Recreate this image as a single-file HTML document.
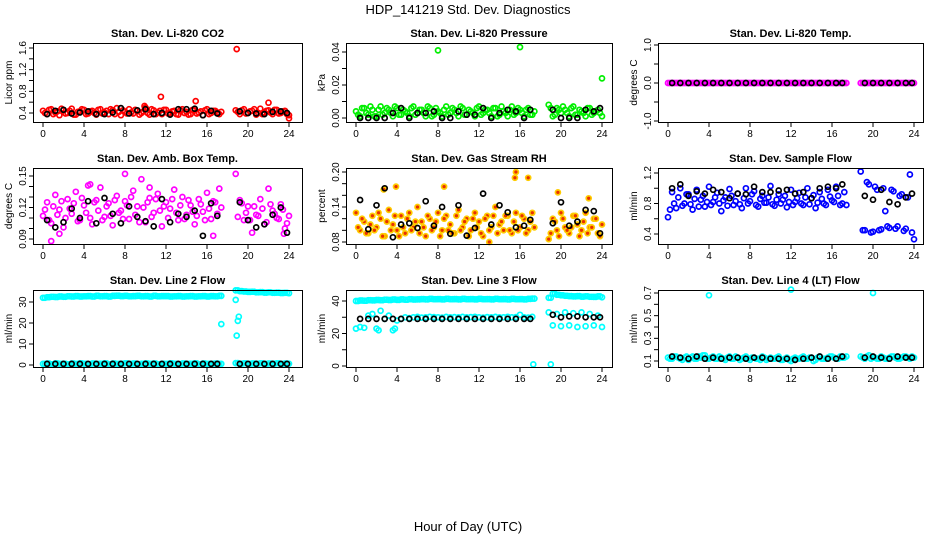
<!DOCTYPE html>
<html><head><meta charset="utf-8">
<style>
html,body{margin:0;padding:0;background:#fff;}
svg{display:block;font-family:"Liberation Sans",Arial,sans-serif;}
</style></head>
<body>
<svg id="chart" width="936" height="540" viewBox="0 0 936 540" xmlns="http://www.w3.org/2000/svg">
<text x="468" y="14" text-anchor="middle" font-size="13">HDP_141219  Std. Dev. Diagnostics</text>
<text x="468" y="531" text-anchor="middle" font-size="13">Hour of Day (UTC)</text>
<g id="panels"></g>
</svg>
<script>
const xTicks = [0,4,8,12,16,20,24];
const hoursC = [0,0.4,0.8,1.2,1.6,2,2.4,2.8,3.2,3.6,4,4.4,4.8,5.2,5.6,6,6.4,6.8,7.2,7.6,8,8.4,8.8,9.2,9.6,10,10.4,10.8,11.2,11.6,12,12.4,12.8,13.2,13.6,14,14.4,14.8,15.2,15.6,16,16.4,16.8,17.2,18.8,19.2,19.6,20,20.4,20.8,21.2,21.6,22,22.4,22.8,23.2,23.6,24];
const hoursC2 = [0.2,0.6,1,1.4,1.8,2.2,2.6,3,3.4,3.8,4.2,4.6,5,5.4,5.8,6.2,6.6,7,7.4,7.8,8.2,8.6,9,9.4,9.8,10.2,10.6,11,11.4,11.8,12.2,12.6,13,13.4,13.8,14.2,14.6,15,15.4,15.8,16.2,16.6,17,17.4,19,19.4,19.8,20.2,20.6,21,21.4,21.8,22.2,22.6,23,23.4,23.8];
const hoursK = [0.4,1.2,2,2.8,3.6,4.4,5.2,6,6.8,7.6,8.4,9.2,10,10.8,11.6,12.4,13.2,14,14.8,15.6,16.4,17,19.2,20,20.8,21.6,22.4,23.2,23.8];

const co2C = [0.44,0.38,0.47,0.41,0.36,0.45,0.40,0.48,0.37,0.43,0.46,0.39,0.44,0.37,0.47,0.41,0.38,0.45,0.49,0.36,0.42,0.47,0.39,0.44,0.40,0.50,0.37,0.45,0.41,0.38,0.46,0.40,0.44,0.37,0.47,0.42,0.38,0.45,0.41,0.36,0.47,0.40,0.44,0.38,0.45,0.38,0.47,0.40,0.44,0.37,0.48,0.41,0.45,0.38,0.46,0.40,0.44,0.36];
const co2C2 = [0.40,0.46,0.38,0.43,0.48,0.39,0.44,0.37,0.42,0.47,0.38,0.43,0.40,0.46,0.39,0.44,0.47,0.38,0.42,0.45,0.39,0.41,0.46,0.37,0.43,0.40,0.47,0.38,0.44,0.46,0.39,0.43,0.38,0.45,0.40,0.37,0.46,0.39,0.43,0.45,0.38,0.44,0.41,0.42,0.42,0.45,0.39,0.43,0.47,0.40,0.38,0.44,0.41,0.46,0.39,0.43,0.38];
const co2OutH = [11.5,14.9,18.9,22,9.9,24];
const co2OutV = [0.70,0.62,1.58,0.59,0.53,0.30];
const co2K = [0.38,0.44,0.46,0.39,0.41,0.43,0.38,0.38,0.41,0.49,0.39,0.45,0.47,0.38,0.40,0.37,0.47,0.47,0.48,0.36,0.44,0.39,0.43,0.40,0.39,0.38,0.42,0.43,0.40];

const presC = [0.004,0.001,0.006,0.002,0.005,0.001,0.007,0.003,0.005,0.001,0.006,0.002,0.004,0.001,0.007,0.003,0.005,0.001,0.006,0.002,0.004,0.001,0.007,0.003,0.005,0.001,0.006,0.002,0.004,0.001,0.007,0.003,0.005,0.001,0.006,0.002,0.004,0.001,0.007,0.003,0.005,0.001,0.006,0.002,0.008,0.001,0.006,0.003,0.005,0.001,0.007,0.002,0.004,0.001,0.006,0.003,0.005,0.001];
const presC2 = [0.002,0.006,0.003,0.007,0.001,0.005,0.002,0.006,0.003,0.007,0.002,0.005,0.003,0.006,0.002,0.005,0.003,0.007,0.001,0.006,0.003,0.005,0.002,0.006,0.003,0.007,0.002,0.005,0.003,0.006,0.002,0.005,0.003,0.006,0.001,0.007,0.003,0.005,0.002,0.006,0.003,0.005,0.002,0.004,0.006,0.002,0.005,0.007,0.003,0.006,0.002,0.005,0.003,0.006,0.002,0.004,0.003];
const presOutH = [8,16,24];
const presOutV = [0.041,0.043,0.024];
const presK = [0,0,0,0,0.003,0.006,0,0.003,0.003,0.004,0,0,0.004,0.002,0.002,0.006,0,0.003,0.005,0.004,0,0.005,0.005,0,0,0,0.005,0.004,0.006];

const tempC = [0,0,0,0,0,0,0,0,0,0,0,0,0,0,0,0,0,0,0,0,0,0,0,0,0,0,0,0,0,0,0,0,0,0,0,0,0,0,0,0,0,0,0,0,0,0,0,0,0,0,0,0,0,0,0,0,0,0];
const tempC2 = [0,0,0,0,0,0,0,0,0,0,0,0,0,0,0,0,0,0,0,0,0,0,0,0,0,0,0,0,0,0,0,0,0,0,0,0,0,0,0,0,0,0,0,0,0,0,0,0,0,0,0,0,0,0,0,0,0];
const tempK = [0,0,0,0,0,0,0,0,0,0,0,0,0,0,0,0,0,0,0,0,0,0,0,0,0,0,0,0,0];

const ambC = [0.112,0.125,0.105,0.132,0.118,0.101,0.128,0.114,0.135,0.108,0.122,0.141,0.104,0.127,0.139,0.111,0.124,0.103,0.131,0.117,0.126,0.109,0.136,0.121,0.147,0.106,0.129,0.115,0.133,0.102,0.125,0.119,0.137,0.108,0.130,0.113,0.122,0.104,0.128,0.116,0.134,0.109,0.125,0.138,0.152,0.127,0.108,0.121,0.096,0.113,0.128,0.104,0.138,0.117,0.110,0.123,0.100,0.112];
const ambC2 = [0.118,0.108,0.121,0.113,0.126,0.110,0.119,0.124,0.107,0.129,0.115,0.110,0.125,0.117,0.108,0.121,0.112,0.127,0.115,0.109,0.122,0.130,0.113,0.106,0.120,0.125,0.111,0.128,0.117,0.121,0.110,0.128,0.115,0.122,0.109,0.127,0.116,0.112,0.123,0.108,0.119,0.126,0.114,0.120,0.111,0.124,0.115,0.108,0.121,0.112,0.119,0.106,0.123,0.114,0.109,0.118,0.105];
const ambOutH = [0.8,1.6,16.6,23.5,4.6,8,10.4];
const ambOutV = [0.088,0.095,0.093,0.095,0.142,0.152,0.139];
const ambK = [0.108,0.101,0.106,0.119,0.110,0.126,0.105,0.129,0.114,0.105,0.121,0.111,0.107,0.102,0.128,0.106,0.114,0.111,0.117,0.093,0.124,0.112,0.125,0.108,0.101,0.104,0.113,0.120,0.096];

const rhC = [0.13,0.10,0.115,0.095,0.125,0.105,0.12,0.09,0.135,0.11,0.10,0.125,0.095,0.13,0.105,0.14,0.115,0.09,0.12,0.105,0.13,0.10,0.125,0.11,0.095,0.135,0.105,0.12,0.10,0.13,0.115,0.09,0.125,0.105,0.14,0.11,0.10,0.125,0.095,0.13,0.105,0.12,0.10,0.13,0.085,0.12,0.10,0.13,0.105,0.095,0.125,0.11,0.10,0.13,0.105,0.12,0.095,0.11];
const rhC2 = [0.105,0.12,0.095,0.11,0.10,0.13,0.09,0.115,0.10,0.125,0.09,0.105,0.12,0.10,0.115,0.095,0.105,0.125,0.10,0.115,0.09,0.12,0.10,0.095,0.125,0.10,0.115,0.09,0.12,0.105,0.095,0.12,0.10,0.125,0.095,0.115,0.125,0.10,0.115,0.10,0.125,0.095,0.115,0.105,0.095,0.115,0.09,0.12,0.10,0.105,0.125,0.09,0.115,0.095,0.105,0.12,0.09];
const rhOutH = [15.6,15.5,16.8,8.6,3.9,13,19.7,22.7,2.7];
const rhOutV = [0.200,0.190,0.190,0.175,0.175,0.080,0.165,0.155,0.170];
const rhK = [0.152,0.102,0.143,0.172,0.088,0.110,0.112,0.104,0.150,0.108,0.140,0.094,0.143,0.091,0.104,0.163,0.110,0.143,0.131,0.105,0.108,0.118,0.112,0.148,0.108,0.115,0.135,0.133,0.095];

const sampC = [0.62,0.95,0.74,1.00,0.80,0.92,0.72,0.98,0.85,0.76,1.02,0.82,0.94,0.70,0.88,0.99,0.78,0.93,0.74,1.00,0.83,0.96,0.76,0.90,0.81,1.03,0.77,0.92,0.85,0.75,0.98,0.82,0.94,0.78,1.00,0.87,0.74,0.95,0.80,0.98,0.84,1.02,0.78,0.95,1.22,0.45,1.05,0.43,0.98,0.46,0.70,0.48,0.96,0.50,0.92,0.47,1.18,0.33];
const sampC2 = [0.72,0.80,0.88,0.77,0.92,0.79,0.86,0.76,0.90,0.82,0.78,0.88,0.80,0.84,0.77,0.90,0.83,0.79,0.87,0.80,0.92,0.78,0.86,0.81,0.88,0.79,0.85,0.80,0.90,0.82,0.78,0.87,0.80,0.88,0.79,0.91,0.81,0.86,0.78,0.89,0.82,0.90,0.80,0.78,0.45,1.08,0.42,1.02,0.45,1.00,0.50,0.98,0.47,0.90,0.44,0.88,0.42];
const sampK = [1.00,1.05,0.90,0.96,0.93,0.98,0.95,0.87,0.93,0.92,1.02,0.95,0.95,0.97,0.98,0.93,0.95,0.87,1.00,1.02,1.00,1.05,0.90,0.85,0.98,0.82,0.79,0.88,0.93];

const l2Hi = [32,32.3,32.5,32.4,32.6,32.5,32.7,32.6,32.8,32.6,32.7,32.8,32.6,32.9,32.7,32.8,32.6,32.9,33,32.8,32.9,32.7,32.8,32.9,32.7,32.8,32.6,32.9,32.7,32.8,32.8,32.6,32.7,32.8,32.6,32.7,32.8,32.6,32.7,32.8,32.6,32.8,32.7,32.9,35.5,35.2,35,34.8,34.9,34.6,34.7,34.5,34.6,34.4,34.5,34.3,34.4,34.2];
const l2Lo = [0.5,0.7,0.4,0.8,0.5,0.6,0.4,0.7,0.5,0.8,0.6,0.4,0.7,0.5,0.6,0.8,0.4,0.7,0.5,0.6,0.8,0.5,0.7,0.4,0.6,0.8,0.5,0.7,0.4,0.6,0.5,0.8,0.6,0.4,0.7,0.5,0.6,0.8,0.4,0.7,0.5,0.6,0.7,0.5,0.9,0.6,0.8,0.5,0.7,0.6,0.8,0.5,0.7,0.6,0.8,0.5,0.7,0.6];
const l2OutH = [17.4,18.8,18.9,19,19.1];
const l2OutV = [19.5,31,14,21,23];
const l2K = [0.5,0.5,0.5,0.5,0.5,0.5,0.5,0.5,0.5,0.5,0.5,0.5,0.5,0.5,0.5,0.5,0.5,0.5,0.5,0.5,0.5,0.5,0.5,0.5,0.5,0.5,0.5,0.5,0.5];

const l3Hi = [40,40.3,40.2,40.5,40.4,40.6,40.5,40.8,40.6,40.9,40.7,41,40.8,41.1,40.9,41,41.2,41,41.3,41.1,41.2,41,41.3,41.1,41.2,41,41.3,41.1,41.2,41,41.3,41.1,41.2,41,41.3,41.1,41.2,41,41.3,41.1,41.2,41,41.3,41.5,42,44.5,43.8,43.5,43.2,43,42.8,43,42.7,42.9,42.6,42.5,42.8,42.3];
const l3Lo = [23,24,23.5,31,32,23,34,29,31,22,28,29,30,29.5,30,30.2,29.8,30,30.3,30.1,30,29.8,30.2,30,30.1,29.9,30.2,30,30.1,30.3,30,29.8,30.1,30,30.2,29.9,30,30.3,30,30.1,31.5,30,29.8,30.2,33,25,32,24.5,33,25,32.5,24,33,24.5,32,25,31,24];
const l3OutH = [17.3,19,3.8,2.2];
const l3OutV = [1,1,23,22];
const l3K = [29,29,29,29,29,29,29,29,29,29,29,29,29,29,29,29,29,29,29,29,29,29,31.5,30,30.5,30.5,30,30,30];

const ltC = [0.13,0.12,0.14,0.12,0.13,0.11,0.14,0.12,0.13,0.15,0.12,0.14,0.12,0.13,0.11,0.14,0.12,0.13,0.12,0.14,0.11,0.13,0.12,0.14,0.11,0.13,0.12,0.14,0.11,0.13,0.10,0.13,0.12,0.14,0.12,0.13,0.11,0.14,0.12,0.13,0.14,0.12,0.14,0.13,0.14,0.12,0.15,0.13,0.12,0.14,0.12,0.13,0.14,0.12,0.13,0.14,0.12,0.13];
const ltC2 = [0.12,0.14,0.13,0.11,0.14,0.13,0.12,0.14,0.15,0.12,0.13,0.12,0.14,0.12,0.13,0.12,0.14,0.11,0.13,0.12,0.13,0.12,0.11,0.13,0.12,0.12,0.13,0.11,0.12,0.11,0.12,0.12,0.13,0.12,0.13,0.10,0.13,0.12,0.12,0.14,0.13,0.12,0.13,0.14,0.13,0.14,0.12,0.13,0.12,0.13,0.12,0.14,0.13,0.12,0.14,0.13,0.14];
const ltOutH = [4,12,20];
const ltOutV = [0.68,0.73,0.70];
const ltK = [0.14,0.13,0.12,0.14,0.12,0.13,0.12,0.13,0.13,0.12,0.13,0.13,0.12,0.12,0.12,0.11,0.12,0.13,0.14,0.12,0.12,0.14,0.13,0.14,0.13,0.12,0.14,0.13,0.13];

const yTicks1 = [0.4,0.6,0.8,1.0,1.2,1.4,1.6]; const yLab1 = ["0.4","","0.8","","1.2","","1.6"];
const yTicks2 = [0,0.01,0.02,0.03,0.04]; const yLab2 = ["0.00","","0.02","","0.04"];
const yTicks3 = [-1,-0.5,0,0.5,1]; const yLab3 = ["-1.0","","0.0","","1.0"];
const yTicks4 = [0.09,0.10,0.11,0.12,0.13,0.14,0.15]; const yLab4 = ["0.09","","","0.12","","","0.15"];
const yTicks5 = [0.08,0.10,0.12,0.14,0.16,0.18,0.20]; const yLab5 = ["0.08","","","0.14","","","0.20"];
const yTicks6 = [0.4,0.6,0.8,1.0,1.2]; const yLab6 = ["0.4","","0.8","","1.2"];
const yTicks7 = [0,10,20,30]; const yLab7 = ["0","10","20","30"];
const yTicks8 = [0,10,20,30,40]; const yLab8 = ["0","","20","","40"];
const yTicks9 = [0.1,0.2,0.3,0.4,0.5,0.6,0.7]; const yLab9 = ["0.1","","0.3","","0.5","","0.7"];

const NS = "http://www.w3.org/2000/svg";
const colLeft = [33,346,658], colW = [269,266,265];
const rowTop = [43,168,290], rowH = [79,76,77];

const panels = [
 {t:"Stan. Dev. Li-820 CO2", yl:"Licor ppm", c:0, r:0, cal:[0.4,113,1.6,48], yt:yTicks1, ylb:yLab1, col:"#ff0000",
  ser:[[hoursC,co2C],[hoursC2,co2C2],[co2OutH,co2OutV]], k:co2K},
 {t:"Stan. Dev. Li-820 Pressure", yl:"kPa", c:1, r:0, cal:[0,118,0.04,52], yt:yTicks2, ylb:yLab2, col:"#00ee00",
  ser:[[hoursC,presC],[hoursC2,presC2],[presOutH,presOutV]], k:presK},
 {t:"Stan. Dev. Li-820 Temp.", yl:"degrees C", c:2, r:0, cal:[0,83,1,45], yt:yTicks3, ylb:yLab3, col:"#ff00ff",
  ser:[[hoursC,tempC],[hoursC2,tempC2]], k:tempK},
 {t:"Stan. Dev. Amb. Box Temp.", yl:"degrees C", c:0, r:1, cal:[0.09,239,0.15,176], yt:yTicks4, ylb:yLab4, col:"#ff00ff",
  ser:[[hoursC,ambC],[hoursC2,ambC2],[ambOutH,ambOutV]], k:ambK},
 {t:"Stan. Dev. Gas Stream RH", yl:"percent", c:1, r:1, cal:[0.08,242,0.20,172], yt:yTicks5, ylb:yLab5, col:"#ffcc00", fill:"#e83000",
  ser:[[hoursC,rhC],[hoursC2,rhC2],[rhOutH,rhOutV]], k:rhK},
 {t:"Stan. Dev. Sample Flow", yl:"ml/min", c:2, r:1, cal:[0.4,234,1.2,173], yt:yTicks6, ylb:yLab6, col:"#0000ff",
  ser:[[hoursC,sampC],[hoursC2,sampC2]], k:sampK},
 {t:"Stan. Dev. Line 2 Flow", yl:"ml/min", c:0, r:2, cal:[0,365,30,302], yt:yTicks7, ylb:yLab7, col:"#00ffff",
  ser:[[hoursC,l2Hi],[hoursC2,l2Hi],[hoursC,l2Lo],[hoursC2,l2Lo],[l2OutH,l2OutV]], k:l2K},
 {t:"Stan. Dev. Line 3 Flow", yl:"ml/min", c:1, r:2, cal:[0,366,40,301], yt:yTicks8, ylb:yLab8, col:"#00ffff",
  ser:[[hoursC,l3Hi],[hoursC2,l3Hi],[hoursC,l3Lo],[l3OutH,l3OutV]], k:l3K},
 {t:"Stan. Dev. Line 4 (LT) Flow", yl:"ml/min", c:2, r:2, cal:[0.1,361,0.7,293], yt:yTicks9, ylb:yLab9, col:"#00ffff",
  ser:[[hoursC,ltC],[hoursC2,ltC2],[ltOutH,ltOutV]], k:ltK}
];

function mk(tag, attrs, parent){ const e=document.createElementNS(NS,tag); for(const a in attrs) e.setAttribute(a,attrs[a]); parent.appendChild(e); return e; }

const root = document.getElementById('panels');
panels.forEach((p,i)=>{
  const L=colLeft[p.c], W=colW[p.c], T=rowTop[p.r], H=rowH[p.r];
  const g=mk('g',{},root);
  
  
  const x = h => L+10 + h*(246/24);
  const y = v => p.cal[1] + (v-p.cal[0])*(p.cal[3]-p.cal[1])/(p.cal[2]-p.cal[0]);
  const tt=mk('text',{x:L+W/2,y:T-6,'text-anchor':'middle','font-size':'11','font-weight':'bold'},g);
  tt.textContent=p.t;
  
  
  const pg=mk('g',{fill:p.fill||'none',stroke:p.col,'stroke-width':'1.7'},g);
  
  
  p.ser.forEach(s=>{
    s[0].forEach((h,j)=>{
      const v=s[1][j];
      if(v===undefined) return;
      const c=mk('circle',{cx:x(h).toFixed(1),cy:y(v).toFixed(1),r:2.5},pg);
      
      
    });
  });
  const kg=mk('g',{fill:'none',stroke:'#000','stroke-width':'1.7'},g);
  
  
  hoursK.forEach((h,j)=>{
    const c=mk('circle',{cx:x(h).toFixed(1),cy:y(p.k[j]).toFixed(1),r:2.5},kg);
    
    
  });
  const box=mk('rect',{x:L+0.5,y:T+0.5,width:W,height:H,fill:'none',stroke:'#000','stroke-width':'1'},g);
  
  
  const xa=mk('g',{stroke:'#000','stroke-width':'1'},g);
  
  
  mk('line',{x1:x(0),x2:x(24),y1:T+H+0.5,y2:T+H+0.5},xa);
  xTicks.forEach(v=>{
    mk('line',{x1:x(v),x2:x(v),y1:T+H,y2:T+H+5},xa);
    const tl=mk('text',{x:x(v),y:T+H+15,'text-anchor':'middle','font-size':'10',stroke:'none',fill:'#000'},xa);
    tl.textContent=v;
    
    
  });
  const ya=mk('g',{stroke:'#000','stroke-width':'1'},g);
  
  
  mk('line',{x1:L+0.5,x2:L+0.5,y1:y(p.yt[0]),y2:y(p.yt[p.yt.length-1])},ya);
  p.yt.forEach((v,j)=>{
    const yy=y(v);
    mk('line',{x1:L-4,x2:L,y1:yy,y2:yy},ya);
    if(p.ylb[j]){
      const tl=mk('text',{x:L-7,y:yy,'text-anchor':'middle','font-size':'10',stroke:'none',fill:'#000',transform:`rotate(-90 ${L-7} ${yy})`},ya);
      tl.textContent=p.ylb[j];
      
      
    }
  });
  const yt=mk('text',{x:L-21,y:T+H/2,'text-anchor':'middle','font-size':'10',transform:`rotate(-90 ${L-21} ${T+H/2})`},g);
  yt.textContent=p.yl;
  
  
});
</script>
</body></html>
